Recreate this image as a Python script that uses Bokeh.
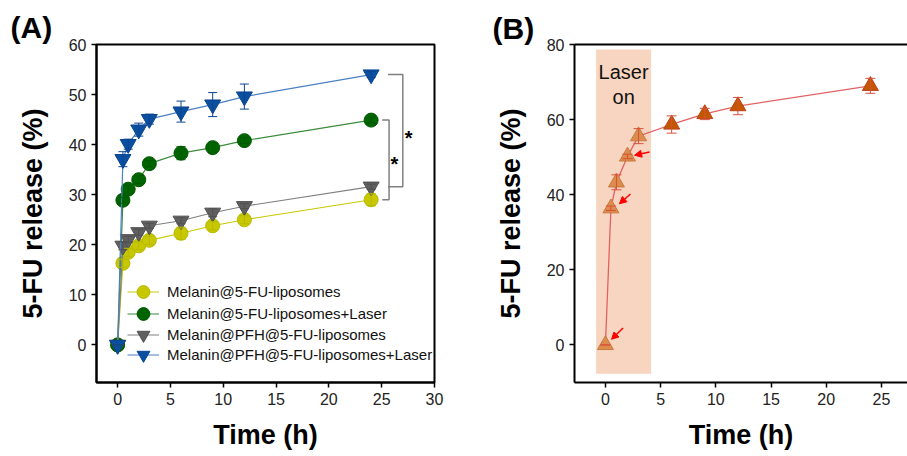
from bokeh.plotting import figure
from bokeh.layouts import row
from bokeh.models import (ColumnDataSource, Whisker, TeeHead, Legend, LegendItem, Label,
                          LinearAxis, FixedTicker, BoxAnnotation, Arrow, NormalHead, Range1d, Title)
from bokeh.embed import file_html
from bokeh.resources import INLINE

# ---------------- data ----------------
time_h = [0, 0.5, 1, 2, 3, 6, 9, 12, 24]

names_a = ["Melanin@5-FU-liposomes",
           "Melanin@5-FU-liposomes+Laser",
           "Melanin@PFH@5-FU-liposomes",
           "Melanin@PFH@5-FU-liposomes+Laser"]

mel = [0, 16.3, 18.5, 19.8, 20.9, 22.3, 23.8, 25.0, 29.0]
mel_err = [0, 0.8, 0.8, 0.8, 0.8, 1.2, 0.8, 0.8, 1.2]
mel_laser = [0, 28.9, 31.1, 33.0, 36.2, 38.3, 39.4, 40.8, 44.9]
mel_laser_err = [0, 0.6, 0.8, 0.8, 0.6, 1.3, 1.0, 0.6, 0.6]
pfh = [0, 19.8, 21.1, 22.5, 23.8, 24.8, 26.4, 27.7, 31.6]
pfh_err = [0, 0.8, 0.6, 0.6, 0.5, 0.6, 0.8, 0.5, 0.5]
pfh_laser = [0, 37.1, 40.1, 43.0, 45.1, 46.6, 48.0, 49.6, 54.0]
pfh_laser_err = [0, 1.5, 1.0, 1.3, 1.0, 2.1, 2.4, 2.5, 0.6]

release_b = [0, 36.4, 43.3, 50.2, 55.6, 58.7, 61.5, 63.6, 69.0]
release_b_err = [0, 0.6, 2.0, 0.6, 2.0, 2.3, 1.5, 2.3, 2.0]
laser_on_count = 5          # first five time points are measured with laser on
laser_window = (-0.84, 4.14)
arrow_targets = [0, 1, 3]   # indices of points marked with red arrows

xticks_a = [0, 5, 10, 15, 20, 25, 30]
yticks_a = [0, 10, 20, 30, 40, 50, 60]
xticks_b = [0, 5, 10, 15, 20, 25]
yticks_b = [0, 20, 40, 60, 80]

FONT = "Liberation Sans"
TICK_COLOR = "#222222"


def style_axes(p, xticks, yticks):
    p.xaxis.ticker = FixedTicker(ticks=xticks)
    p.yaxis.ticker = FixedTicker(ticks=yticks)
    for ax in (p.xaxis[0], p.yaxis[0]):
        ax.axis_line_width = 2
        ax.axis_line_color = "black"
        ax.major_tick_out = 5
        ax.major_tick_in = 0
        ax.minor_tick_line_color = None
        ax.major_tick_line_color = "black"
        ax.major_tick_line_width = 1.5
        ax.major_label_text_font = FONT
        ax.major_label_text_font_size = "16px"
        ax.major_label_text_color = TICK_COLOR
        ax.major_label_standoff = 5
        ax.axis_label_text_font = FONT
        ax.axis_label_text_font_style = "bold"
        ax.axis_label_text_font_size = "27px"
        ax.axis_label_text_color = "black"
    p.xaxis.axis_label = "Time (h)"
    p.yaxis.axis_label = "5-FU release (%)"
    p.xaxis.axis_label_standoff = 12
    p.yaxis.axis_label_standoff = 18
    p.xgrid.grid_line_color = None
    p.ygrid.grid_line_color = None


H = 456

# ---------------- panel A ----------------
pa = figure(width=468, height=H, output_backend="svg", toolbar_location=None,
            x_range=Range1d(-2, 30), y_range=Range1d(-7.5, 60),
            min_border_left=96, min_border_right=34, min_border_top=43,
            min_border_bottom=H - 43 - 339)
pa.outline_line_color = "black"
pa.outline_line_width = 2
pa.outline_line_alpha = 1
style_axes(pa, xticks_a, yticks_a)

styles_a = [
    dict(marker="circle", fill="#C8C800", edge="#B8B800", line="#C8C800", size=14),
    dict(marker="circle", fill="#006400", edge="#005A00", line="#3C8C3C", size=14),
    dict(marker="inverted_triangle", fill="#606060", edge="#505050", line="#808080", size=16),
    dict(marker="inverted_triangle", fill="#0A4FA0", edge="#0A4590", line="#4A80C0", size=16),
]
values_a = [mel, mel_laser, pfh, pfh_laser]
errors_a = [mel_err, mel_laser_err, pfh_err, pfh_laser_err]
legend_bottoms = [73, 51, 30, 10]   # one single-row legend per series, stacked

for name, vals, errs, st, lb in zip(names_a, values_a, errors_a, styles_a, legend_bottoms):
    src = ColumnDataSource(dict(x=time_h, y=vals,
                                upper=[v + e for v, e in zip(vals, errs)],
                                lower=[v - e for v, e in zip(vals, errs)]))
    lr = pa.line("x", "y", source=src, line_color=st["line"], line_width=1.2)
    w = Whisker(source=src, base="x", upper="upper", lower="lower",
                line_color=st["edge"], line_width=1,
                upper_head=TeeHead(size=9, line_color=st["edge"], line_width=1),
                lower_head=TeeHead(size=9, line_color=st["edge"], line_width=1),
                level="glyph")
    pa.add_layout(w)
    sr = pa.scatter("x", "y", source=src, marker=st["marker"], size=st["size"],
                    fill_color=st["fill"], line_color=st["edge"], line_width=1)
    leg = Legend(items=[LegendItem(label=name, renderers=[lr, sr])], location=(31, lb),
                 padding=0, margin=0, spacing=0, glyph_width=32, glyph_height=35,
                 label_height=35, label_standoff=8, label_text_font=FONT,
                 label_text_font_size="15px", label_text_color="#111111",
                 background_fill_alpha=0, border_line_color=None)
    pa.add_layout(leg)

# significance brackets, anchored on the 24 h values
def bracket(p, y_top, y_bot, x_in, x_out):
    p.line([x_in, x_out, x_out, x_in], [y_top, y_top, y_bot, y_bot],
           line_color="#808080", line_width=1.5)

bracket(pa, pfh_laser[-1], pfh[-1], 25.6, 27.0)
bracket(pa, mel_laser[-1], mel[-1], 25.05, 25.7)
for xs, ys in [(27.55, (pfh_laser[-1] + pfh[-1]) / 2 - 0.2),
               (26.2, (mel_laser[-1] + mel[-1]) / 2 + 0.3)]:
    pa.add_layout(Label(x=xs, y=ys - 1.2, text="*", text_align="center",
                        text_baseline="middle", text_font=FONT, text_font_style="bold",
                        text_font_size="20px", text_color="black"))

pa.add_layout(Title(text="(A)", align="left", offset=-86, text_font=FONT,
                    text_font_style="bold", text_font_size="30px", text_color="black",
                    standoff=2), "above")

# ---------------- panel B ----------------
pb = figure(width=439, height=H, output_backend="svg", toolbar_location=None,
            x_range=Range1d(-2.8, 27.36), y_range=Range1d(-10, 80),
            min_border_left=106, min_border_right=0, min_border_top=44,
            min_border_bottom=H - 44 - 339)
pb.outline_line_color = None
style_axes(pb, xticks_b, yticks_b)
top_axis = LinearAxis(ticker=FixedTicker(ticks=[]), axis_line_width=2, axis_line_color="black",
                      major_tick_line_color=None, minor_tick_line_color=None,
                      major_label_text_font_size="0px")
pb.add_layout(top_axis, "above")

pb.add_layout(BoxAnnotation(left=laser_window[0], right=laser_window[1], bottom=-7.7, top=78.7,
                            fill_color="#F8D5C0", fill_alpha=1, line_color=None, level="underlay"))
pb.add_layout(Label(x=sum(laser_window) / 2, y=72.8, text="Laser", text_align="center",
                    text_baseline="middle", text_font=FONT, text_font_size="20px",
                    text_color="#111111"))
pb.add_layout(Label(x=sum(laser_window) / 2, y=66.1, text="on", text_align="center",
                    text_baseline="middle", text_font=FONT, text_font_size="20px",
                    text_color="#111111"))

src_b = ColumnDataSource(dict(x=time_h, y=release_b,
                              upper=[v + e for v, e in zip(release_b, release_b_err)],
                              lower=[v - e for v, e in zip(release_b, release_b_err)]))
pb.line("x", "y", source=src_b, line_color="#E06262", line_width=1.3)
pb.add_layout(Whisker(source=src_b, base="x", upper="upper", lower="lower",
                      line_color="#D8503A", line_width=1,
                      upper_head=TeeHead(size=10, line_color="#D8503A", line_width=1),
                      lower_head=TeeHead(size=10, line_color="#D8503A", line_width=1),
                      level="glyph"))
src_on = ColumnDataSource(dict(x=time_h[:laser_on_count], y=release_b[:laser_on_count]))
src_off = ColumnDataSource(dict(x=time_h[laser_on_count:], y=release_b[laser_on_count:]))
pb.scatter("x", "y", source=src_on, marker="triangle", size=16,
           fill_color="#DC8C4C", line_color="#C87A40", line_width=1)
pb.scatter("x", "y", source=src_off, marker="triangle", size=16,
           fill_color="#C25800", line_color="#C0401C", line_width=1)

arrow_offsets = {0: ((1.6, 4.5), (0.55, 1.5)),
                 1: ((1.77, 3.8), (0.77, 1.2)),
                 3: ((2.0, 1.2), (0.64, 0.3))}
for i in arrow_targets:
    (sx, sy), (ex, ey) = arrow_offsets[i]
    pb.add_layout(Arrow(x_start=time_h[i] + sx, y_start=release_b[i] + sy,
                        x_end=time_h[i] + ex, y_end=release_b[i] + ey,
                        line_color="#FF0000", line_width=1.5,
                        end=NormalHead(size=7, fill_color="#FF0000", line_color="#FF0000")))

pb.add_layout(Title(text="(B)", align="left", offset=-82, text_font=FONT,
                    text_font_style="bold", text_font_size="30px", text_color="black",
                    standoff=0), "above")

layout = row(pa, pb)
open("out.html", "w").write(file_html(layout, INLINE))
